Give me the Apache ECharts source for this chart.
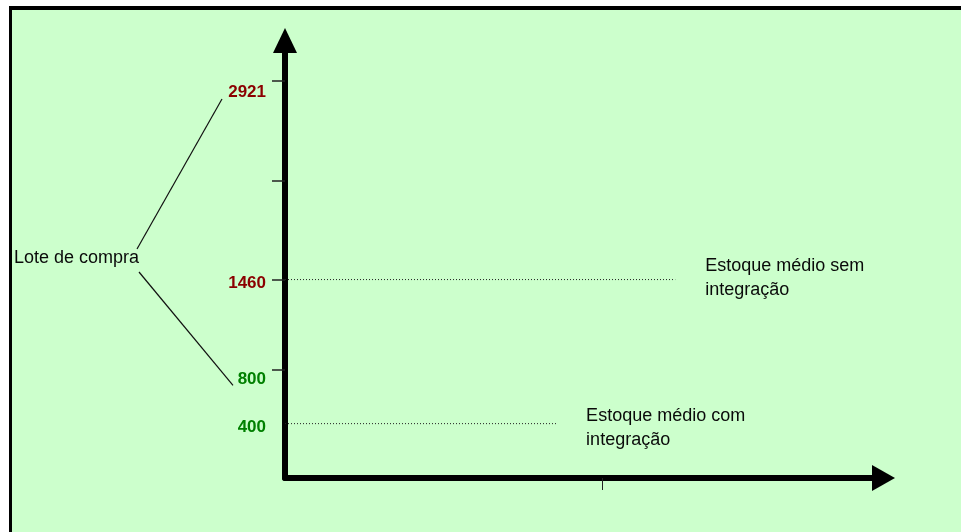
<!DOCTYPE html>
<html>
<head>
<meta charset="utf-8">
<script src="https://cdn.jsdelivr.net/npm/echarts@6/dist/echarts.min.js"></script>
<style>
  html, body { margin: 0; padding: 0; background: #ffffff; }
  #chart { width: 961px; height: 532px; }
</style>
</head>
<body>
<div id="chart"></div>
<script>
// Purchase lot sizes shown on the vertical axis
const lotLabels = [400, 800, 1460, 2921];
const lotTicks = [800, 1460, 2190, 2921];
// Average stock levels (with / without integration) and how far each guide runs
const stockLevels = [1460, 400];
const stockLevelEnds = [65.2, 45.3];
const stockTexts = ['Estoque médio sem\nintegração', 'Estoque médio com\nintegração'];
const xTicks = [53];
const sideText = 'Lote de compra';

const FONT = '"Liberation Sans", Arial, sans-serif';
const labelStyle = {
  2921: { color: '#8B0000', pad: 22 },
  1460: { color: '#8B0000', pad: 8 },
  800: { color: '#008000', pad: 20 },
  400: { color: '#008000', pad: 7 }
};
const rich = {};
lotLabels.forEach(v => {
  rich['v' + v] = {
    color: labelStyle[v].color,
    fontFamily: FONT,
    fontSize: 17,
    fontWeight: 'bold',
    padding: [labelStyle[v].pad, 0, 0, 0]
  };
});

const chart = echarts.init(document.getElementById('chart'));

const levelSeries = stockLevels.map((lvl, i) => ({
  type: 'line',
  data: [[0, lvl], [stockLevelEnds[i], lvl]],
  showSymbol: false,
  symbol: 'none',
  silent: true,
  lineStyle: { color: '#222', width: 1, type: [1, 2] },
  endLabel: {
    show: true,
    formatter: stockTexts[i],
    distance: 30,
    fontFamily: FONT,
    fontSize: 18,
    lineHeight: 24,
    color: '#0a0a0a',
    align: 'left',
    verticalAlign: 'middle',
    offset: [0, i === 0 ? -2 : 4]
  },
  z: 1
}));

chart.setOption({
  animation: false,
  backgroundColor: '#ffffff',
  grid: { left: 285, right: 77.5, top: 40.5, bottom: 54 },
  xAxis: {
    type: 'value',
    min: 0,
    max: 100,
    splitLine: { show: false },
    axisLine: {
      show: true,
      onZero: false,
      lineStyle: { color: '#000', width: 6 },
      symbol: ['none', 'triangle'],
      symbolSize: [26, 23]
    },
    axisTick: {
      show: true,
      customValues: xTicks,
      length: 12,
      lineStyle: { color: '#222', width: 1 }
    },
    axisLabel: { show: false }
  },
  yAxis: {
    type: 'value',
    min: 0,
    max: 3219,
    splitLine: { show: false },
    axisLine: {
      show: true,
      onZero: false,
      lineStyle: { color: '#000', width: 6 },
      symbol: ['none', 'triangle'],
      symbolSize: [24, 25]
    },
    axisTick: {
      show: true,
      customValues: lotTicks,
      length: 13,
      lineStyle: { color: '#222', width: 1.5 }
    },
    axisLabel: {
      show: true,
      customValues: lotLabels,
      margin: 19,
      formatter: v => '{v' + v + '|' + v + '}',
      rich: rich
    }
  },
  series: levelSeries
});

// Frame, side caption and the leader lines pointing at the lot sizes
function drawDecor() {
  const top = chart.convertToPixel({ yAxisIndex: 0 }, 2921);
  const low = chart.convertToPixel({ yAxisIndex: 0 }, 800);
  chart.setOption({
    graphic: [
      { type: 'rect', z: -10, shape: { x: 9, y: 6, width: 960, height: 530 }, style: { fill: '#000' }, silent: true },
      { type: 'rect', z: -9, shape: { x: 12, y: 10, width: 960, height: 530 }, style: { fill: '#CCFFCC' }, silent: true },
      {
        type: 'text', left: 14, top: 249, z: 5,
        style: { text: sideText, font: '18px ' + FONT, fill: '#0a0a0a' }
      },
      { type: 'line', z: 5, shape: { x1: 137, y1: 249, x2: 222, y2: top + 18 }, style: { stroke: '#111', lineWidth: 1.2 } },
      { type: 'line', z: 5, shape: { x1: 139, y1: 272, x2: 233, y2: low + 16 }, style: { stroke: '#111', lineWidth: 1.2 } }
    ]
  });
}
drawDecor();
</script>
</body>
</html>
